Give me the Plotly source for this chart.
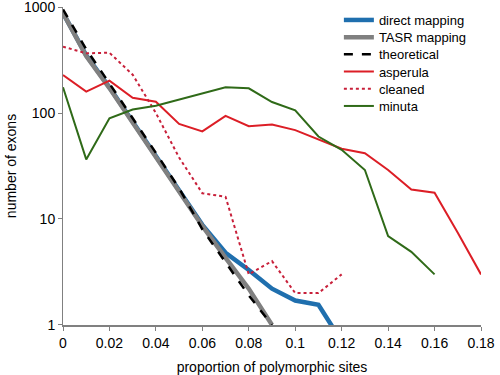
import plotly.graph_objects as go

# x bins (proportion of polymorphic sites)
x_bins = [0, 0.01, 0.02, 0.03, 0.04, 0.05, 0.06, 0.07, 0.08, 0.09,
          0.10, 0.11, 0.12, 0.13, 0.14, 0.15, 0.16, 0.17, 0.18]

direct_mapping = [880, 350, 175, 83, 39, 18.5, 8.8, 4.8, 3.3, 2.2, 1.7, 1.55, 0.7]
tasr_mapping = [880, 345, 172, 81, 38, 18, 8.6, 4.3, 2.2, 1.0]
theoretical = [950, 400, 190, 90, 42, 19.5, 8.0, 3.9, 1.9, 1.0]
asperula = [228, 159, 202, 139, 128, 79, 67, 94, 75, 78, 69, 56, 46, 41.7, 29, 19, 17.7, 7.4, 3]
cleaned = [423, 366, 371, 230, 100, 38, 17.5, 16.2, 3.0, 4.0, 2.0, 2.0, 3.0]
minuta = [175, 36.5, 89, 108, 117, 134, 151, 175, 171, 127, 106, 60, 45, 29, 6.9, 4.9, 3]

x_ticks = [0, 0.02, 0.04, 0.06, 0.08, 0.1, 0.12, 0.14, 0.16, 0.18]
x_tick_labels = ["0", "0.02", "0.04", "0.06", "0.08", "0.1", "0.12", "0.14", "0.16", "0.18"]
y_ticks = [1, 10, 100, 1000]
y_tick_labels = ["1", "10", "100", "1000"]

FONT = "Liberation Sans, Arial, sans-serif"

series = [
    ("direct mapping", direct_mapping, dict(color="#1f6fae", width=4.5)),
    ("TASR mapping", tasr_mapping, dict(color="#808080", width=4.5)),
    ("theoretical", theoretical, dict(color="#000000", width=2.5, dash="dash")),
    ("asperula", asperula, dict(color="#dc1e26", width=2)),
    ("cleaned", cleaned, dict(color="#c8203a", width=2, dash="dot")),
    ("minuta", minuta, dict(color="#2f6a18", width=2)),
]

W, H = 500, 375
ML, MR, MT, MB = 63, 19, 7, 50
plot_h = H - MT - MB

fig = go.Figure()
legend_layout = {}
for i, (name, vals, line) in enumerate(series):
    lg = "legend" if i == 0 else f"legend{i + 1}"
    fig.add_trace(go.Scatter(
        x=x_bins[:len(vals)], y=vals, mode="lines", name=name, line=line,
        legend=lg,
    ))
    center_px = 20 + 17.2 * i
    legend_layout[lg] = dict(
        x=0.66, y=(H - MB - center_px) / plot_h, xanchor="left", yanchor="middle",
        font=dict(family=FONT, size=13, color="#000000"),
        bgcolor="rgba(0,0,0,0)", borderwidth=0, itemwidth=30,
    )

fig.update_layout(
    width=W, height=H,
    margin=dict(l=ML, r=MR, t=MT, b=MB, autoexpand=False),
    paper_bgcolor="white", plot_bgcolor="white",
    font=dict(family=FONT, size=14, color="#000000"),
    showlegend=True,
    xaxis=dict(
        range=[0, 0.18], tickvals=x_ticks, ticktext=x_tick_labels,
        showgrid=False, zeroline=False, automargin=False,
        showline=True, linecolor="#808080", linewidth=2,
        ticks="outside", ticklen=4, tickcolor="#808080", tickwidth=1,
        tickfont=dict(size=14), ticklabeloverflow="allow",
        title=dict(text="proportion of polymorphic sites", font=dict(size=14), standoff=14),
    ),
    yaxis=dict(
        type="log", range=[-0.0005, 3.0005], tickvals=y_ticks, ticktext=y_tick_labels,
        showgrid=False, zeroline=False, automargin=False,
        showline=True, linecolor="#808080", linewidth=1,
        ticks="outside", ticklen=4, tickcolor="#808080", tickwidth=1,
        tickfont=dict(size=14), ticklabeloverflow="allow",
        title=dict(text="number of exons", font=dict(size=14), standoff=4),
    ),
    **legend_layout,
)

fig.write_html(
    "out.html",
    config={"displayModeBar": False},
    post_script="document.body.style.margin='0';document.body.style.padding='0';",
)
